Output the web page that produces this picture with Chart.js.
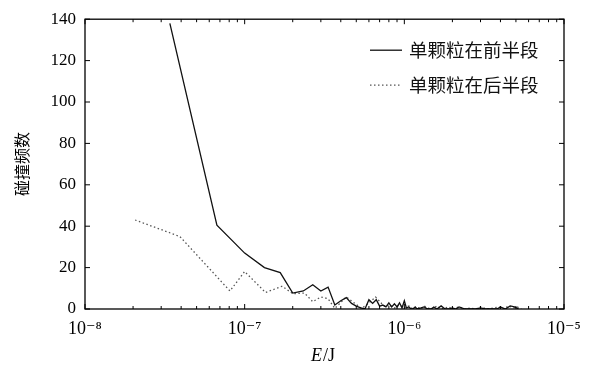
<!DOCTYPE html>
<html>
<head>
<meta charset="utf-8">
<script src="https://cdn.jsdelivr.net/npm/chart.js@4.4.1/dist/chart.umd.min.js"></script>
<style>
  html, body { margin: 0; padding: 0; background: #fff; }
</style>
</head>
<body>
<canvas id="chart" width="595" height="369"></canvas>
<script>
// values (E in J, counts)
const frontE = [
  3.4e-8, 6.7e-8, 1.0e-7, 1.33e-7, 1.67e-7, 2.0e-7, 2.33e-7, 2.67e-7, 3.0e-7, 3.33e-7,
  3.67e-7, 4.0e-7, 4.33e-7, 4.67e-7, 5.0e-7, 5.33e-7, 5.67e-7, 6.0e-7, 6.33e-7, 6.67e-7,
  7.0e-7, 7.33e-7, 7.67e-7, 8.0e-7, 8.33e-7, 8.67e-7, 9.0e-7, 9.33e-7, 9.67e-7, 1.0e-6,
  1.03e-6, 1.07e-6, 1.1e-6, 1.13e-6, 1.17e-6, 1.2e-6, 1.27e-6, 1.33e-6, 1.4e-6, 1.47e-6,
  1.53e-6, 1.6e-6, 1.7e-6, 1.8e-6, 1.9e-6, 2.0e-6, 2.1e-6, 2.2e-6, 2.4e-6, 2.6e-6,
  2.8e-6, 3.0e-6, 3.2e-6, 3.4e-6, 3.6e-6, 3.8e-6, 4.0e-6, 4.3e-6, 4.6e-6, 4.9e-6, 5.2e-6
];
const frontCount = [
  138, 40.5, 27, 20, 17.6, 7.7, 8.7, 11.7, 8.7, 10.6,
  1.9, 4, 5.5, 2.7, 1.4, 0.5, 0, 4.5, 2.7, 4.5,
  1.4, 1.9, 1, 3, 1, 2.5, 1, 3, 0.5, 4,
  0.5, 1, 0, 0, 1, 0, 0.5, 1, 0, 0,
  1, 0, 1.5, 0, 0, 0.5, 0, 1, 0, 0,
  0, 0.5, 0, 0, 0, 0, 1, 0, 1.5, 1, 0
];
const backE = [
  2.06e-8, 3.93e-8, 8.09e-8, 1.0e-7, 1.35e-7, 1.72e-7, 2.0e-7, 2.37e-7, 2.67e-7, 3.0e-7,
  3.33e-7, 3.67e-7, 4.33e-7, 4.9e-7, 5.4e-7, 5.8e-7, 6.6e-7, 7.2e-7, 7.67e-7, 8.0e-7,
  8.67e-7, 9.33e-7, 1.0e-6, 1.07e-6, 1.13e-6, 1.2e-6, 1.27e-6, 1.33e-6, 1.4e-6, 1.5e-6,
  1.6e-6, 1.7e-6, 1.8e-6, 1.9e-6, 2.0e-6, 2.2e-6, 2.4e-6, 2.6e-6, 2.8e-6, 3.0e-6,
  3.3e-6, 3.6e-6, 3.9e-6, 4.2e-6, 4.5e-6, 4.8e-6, 5.1e-6, 5.4e-6
];
const backCount = [
  43, 35, 8.7, 18.1, 8, 11, 7.4, 7.7, 3.5, 5.8,
  5, 0.3, 5.8, 2.7, 0.3, 2, 5.8, 2.7, 1, 2,
  0.5, 2, 0.5, 1.5, 0, 1, 0, 1.5, 0.5, 0,
  1.5, 0, 0.5, 1, 0, 1, 0, 0.5, 0, 1,
  0, 0.5, 1, 0, 1.5, 0.5, 1, 0
];
const seriesNames = ['单颗粒在前半段', '单颗粒在后半段'];
const xMajor = [1e-8, 1e-7, 1e-6, 1e-5];
const xLabels = ['10⁻⁸', '10⁻⁷', '10⁻⁶', '10⁻⁵'];
const xMinorMult = [2, 3, 4, 5, 6, 7, 8, 9];
const yTicks = [0, 20, 40, 60, 80, 100, 120, 140];

const serif = '"Liberation Serif", "DejaVu Serif", serif';
const cjk = '"Noto Sans CJK SC", sans-serif';

// frame, inward ticks, legend and x title
const decor = {
  id: 'decor',
  afterDraw(chart) {
    const { ctx, chartArea: a, scales: { x, y } } = chart;
    ctx.save();
    ctx.strokeStyle = '#000';
    ctx.lineWidth = 1.3;
    ctx.strokeRect(a.left, a.top, a.right - a.left, a.bottom - a.top);

    ctx.lineWidth = 1;
    ctx.beginPath();
    xMajor.forEach((v, i) => {
      const px = x.getPixelForValue(v);
      ctx.moveTo(px, a.top); ctx.lineTo(px, a.top + 5);
      ctx.moveTo(px, a.bottom); ctx.lineTo(px, a.bottom - 5);
      if (i < xMajor.length - 1) {
        xMinorMult.forEach(m => {
          const mx = x.getPixelForValue(m * v);
          ctx.moveTo(mx, a.top); ctx.lineTo(mx, a.top + 3);
          ctx.moveTo(mx, a.bottom); ctx.lineTo(mx, a.bottom - 3);
        });
      }
    });
    yTicks.forEach(v => {
      const py = y.getPixelForValue(v);
      ctx.moveTo(a.left, py); ctx.lineTo(a.left + 5, py);
      ctx.moveTo(a.right, py); ctx.lineTo(a.right - 5, py);
    });
    ctx.stroke();

    // legend
    const lx = a.left + 285, tx = a.left + 324;
    const rows = [a.top + 31, a.top + 66];
    chart.data.datasets.forEach((ds, i) => {
      ctx.beginPath();
      ctx.strokeStyle = ds.borderColor;
      ctx.lineWidth = ds.borderWidth;
      ctx.setLineDash(ds.borderDash || []);
      ctx.moveTo(lx, rows[i]); ctx.lineTo(lx + 32, rows[i]);
      ctx.stroke();
      ctx.setLineDash([]);
      ctx.fillStyle = '#111';
      ctx.font = '18.5px ' + cjk;
      ctx.textBaseline = 'middle';
      ctx.textAlign = 'left';
      ctx.fillText(ds.label, tx, rows[i]);
    });

    // x title: E/J with italic E
    ctx.fillStyle = '#000';
    ctx.textBaseline = 'alphabetic';
    ctx.font = 'italic 18px ' + serif;
    const w1 = ctx.measureText('E').width;
    ctx.font = '18px ' + serif;
    const w2 = ctx.measureText('/J').width;
    const cx = (a.left + a.right) / 2 - 2;
    const by = 361;
    ctx.font = 'italic 18px ' + serif;
    ctx.fillText('E', cx - (w1 + w2) / 2, by);
    ctx.font = '18px ' + serif;
    ctx.fillText('/J', cx - (w1 + w2) / 2 + w1 + 1, by);
    ctx.restore();
  }
};

new Chart(document.getElementById('chart'), {
  type: 'line',
  data: {
    datasets: [{
      label: seriesNames[0],
      data: frontE.map((e, i) => ({ x: e, y: frontCount[i] })),
      borderColor: '#111',
      borderWidth: 1.3,
      pointRadius: 0,
      tension: 0
    }, {
      label: seriesNames[1],
      data: backE.map((e, i) => ({ x: e, y: backCount[i] })),
      borderColor: '#555',
      borderWidth: 1.3,
      borderDash: [1.5, 2.5],
      pointRadius: 0,
      tension: 0
    }]
  },
  options: {
    responsive: false,
    animation: false,
    devicePixelRatio: 1,
    layout: { padding: { top: 13, right: 31, left: 0, bottom: 0 } },
    plugins: { legend: { display: false }, tooltip: { enabled: false } },
    scales: {
      x: {
        type: 'logarithmic',
        min: 1e-8,
        max: 1e-5,
        grid: { display: false, drawTicks: false },
        border: { display: false },
        afterBuildTicks: s => { s.ticks = xMajor.map(v => ({ value: v })); },
        afterFit: s => { s.height = 60; },
        ticks: {
          autoSkip: false,
          maxRotation: 0,
          padding: 9,
          color: '#000',
          font: { family: serif, size: 18 },
          callback: v => xLabels[xMajor.indexOf(v)]
        }
      },
      y: {
        min: 0,
        max: 140,
        grid: { display: false, drawTicks: false },
        border: { display: false },
        afterBuildTicks: s => { s.ticks = yTicks.map(v => ({ value: v })); },
        afterFit: s => { s.width = 85; },
        ticks: {
          padding: 9,
          color: '#000',
          font: { family: serif, size: 17 }
        },
        title: {
          display: true,
          text: '碰撞频数',
          color: '#000',
          font: { family: cjk, size: 16 },
          padding: { top: 12, bottom: 0 }
        }
      }
    }
  },
  plugins: [decor]
});
</script>
</body>
</html>
